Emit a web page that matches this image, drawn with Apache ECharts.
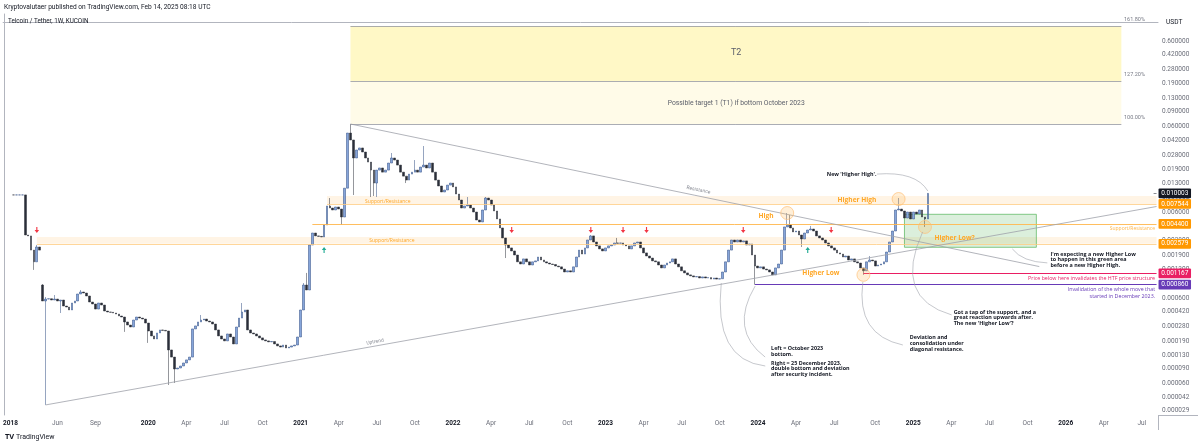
<!DOCTYPE html>
<html><head><meta charset="utf-8">
<script src="https://cdn.jsdelivr.net/npm/echarts/dist/echarts.min.js"></script>
<style>html,body{margin:0;padding:0;background:#fff}#c{width:1200px;height:446px}</style>
</head><body><div id="c"></div>
<script>
// ---------------- DATA ----------------
// weekly bars: a short 2018 block, then a data gap, then continuous weeks from 2019-04-29 (incl. empty future weeks)
const weekSegments = [['2017-12-18', 13], ['2019-04-29', 381]];

// weekly closes (USDT); null = no bar
const closes = [
 null,null,null,0.0096,0.0096,0.0096,0.0096,0.00327,0.00319,0.00218,
 0.00159,0.00237,0.00218,0.000555,0.000585,0.00059,0.00057,0.000585,0.000555,0.00057,
 0.000485,0.000472,0.000436,0.000526,0.000555,0.00067,0.000707,0.000688,0.000635,0.00054,
 0.000512,0.000447,0.000526,0.000498,0.000424,0.000413,0.00041,0.000402,0.000391,0.000371,
 0.000361,0.000316,0.000291,0.000276,0.000333,0.000361,0.000351,0.000342,0.000307,0.000248,
 0.000217,0.0002,0.000235,0.000255,0.000252,0.000248,0.000149,0.000123,0.0000893,0.0000917,
 0.0000968,0.000105,0.000114,0.000123,0.000262,0.000284,0.000316,0.000333,0.000342,0.000324,
 0.000316,0.000299,0.000255,0.000217,0.0002,0.00019,0.000229,0.000211,0.000175,0.000276,
 0.000351,0.000413,0.000436,0.000255,0.000235,0.000229,0.000217,0.000206,0.000195,0.00019,
 0.000185,0.000187,0.000175,0.000166,0.000161,0.00017,0.000157,0.000161,0.000166,0.00017,
 0.000211,0.000436,0.000853,0.000746,0.0025,0.00345,0.00319,0.00315,0.0031,0.00428,
 0.00713,0.00675,0.0064,0.00694,0.00657,0.0053,0.0115,0.0506,0.042,0.0259,
 0.0321,0.0339,0.0304,0.0259,0.0232,0.0187,0.0132,0.0187,0.0198,0.0177,
 0.0187,0.0226,0.0259,0.0245,0.0214,0.0177,0.0159,0.0143,0.0168,0.0177,
 0.0187,0.0177,0.0203,0.0214,0.0198,0.0226,0.0177,0.0143,0.0122,0.01038,
 0.01095,0.0125,0.0132,0.0119,0.00983,0.00837,0.00675,0.00713,0.00732,0.00675,
 0.00606,0.00489,0.00464,0.0064,0.00883,0.00837,0.00732,0.00623,0.00503,0.00395,
 0.00302,0.0025,0.00231,0.00213,0.00191,0.00159,0.0015,0.00172,0.00159,0.00146,
 0.00159,0.00163,0.00181,0.00167,0.00159,0.00154,0.0015,0.00148,0.00142,0.00139,
 0.00131,0.00121,0.00125,0.00121,0.00139,0.00181,0.00218,0.00196,0.00231,0.00286,
 0.00319,0.00271,0.00244,0.00225,0.00213,0.00231,0.00244,0.0025,0.00264,0.00262,
 0.00264,0.0025,0.00244,0.00225,0.00244,0.00264,0.00271,0.00231,0.00202,0.00186,
 0.00176,0.00163,0.00159,0.00146,0.00135,0.00146,0.00154,0.00159,0.00172,0.0015,
 0.00139,0.00125,0.00118,0.00112,0.00109,0.00106,0.00107,0.00103,0.00106,0.00103,
 0.00104,0.001,0.00103,0.001,0.00101,0.00121,0.00159,0.00218,0.00286,0.00271,
 0.00286,0.00271,0.00279,0.0025,0.00257,0.00191,0.00142,0.00135,0.00139,0.00131,
 0.00128,0.00121,0.00112,0.00135,0.0015,0.00218,0.00406,0.00428,0.00395,0.00355,
 0.00364,0.00327,0.00294,0.00345,0.00374,0.00384,0.00364,0.00319,0.00302,0.00286,
 0.00264,0.00244,0.00231,0.00218,0.00202,0.00196,0.00181,0.00186,0.00167,0.00172,
 0.00159,0.00154,0.00135,0.00125,0.00159,0.00167,0.00163,0.00142,0.00146,0.0015,
 0.00159,0.00207,0.00271,0.00364,0.0064,0.00657,0.00623,0.00516,0.00606,0.00503,
 0.00606,0.00575,0.0064,0.0053,0.00503,0.010003
];
// opens that differ from the previous close (start of data / after the gap)
const openAt = {3: 0.0096, 13: 0.000853};
// visible wick extremes
const highAt = {11:0.0025,13:0.000876,14:0.000618,17:0.000652,26:0.000746,67:0.000381,81:0.000526,102:0.0009,103:0.00118,111:0.00883,118:0.0645,132:0.0296,140:0.0245,143:0.0357,158:0.00907,164:0.00907,200:0.00327,209:0.00302,267:0.0059,268:0.0056,275:0.00417,295:0.00186,305:0.00883,315:0.0101};
const lowAt = {10:0.00128,14:0.000034,19:0.000402,41:0.000242,49:0.00018,56:0.0000581,58:0.0000613,115:0.00428,119:0.00957,125:0.00907,126:0.00932,127:0.00907,137:0.0132,171:0.00176,256:0.00086,272:0.00237,293:0.00112,314:0.00406};

// price-scale tick labels
const priceTicks = ['0.600000','0.420000','0.280000','0.190000','0.130000','0.090000','0.060000','0.042000','0.028000','0.019000','0.013000','0.009000','0.006000','0.004200','0.002800','0.001900','0.001300','0.000900','0.000600','0.000420','0.000280','0.000190','0.000130','0.000090','0.000060','0.000042','0.000029'];
// time-scale tick months
const tickMonths = ['2018-01','2019-06','2019-09','2020-01','2020-04','2020-07','2020-10','2021-01','2021-04','2021-07','2021-10','2022-01','2022-04','2022-07','2022-10','2023-01','2023-04','2023-07','2023-10','2024-01','2024-04','2024-07','2024-10','2025-01','2025-04','2025-07','2025-10','2026-01','2026-04','2026-07'];
const monthNames = {'04':'Apr','06':'Jun','07':'Jul','09':'Sep','10':'Oct'};

// drawn levels
const levels = {current:0.010003, hhTop:0.0093, hhBottom:0.007544, sr:0.0044, lowTop:0.0031, lowBottom:0.002579, htf:0.001167, invalid:0.00086, greenTop:0.0057, greenBottom:0.00235};
const fibLevels = [['161.80%',0.8976],['127.20%',0.2049],['100.00%',0.0645]];
const uptrend = [[14,0.000034],[393,0.00703]];
const resistance = [[118,0.0645],[353,0.0014]];
const sellArrows = [[11,0.00374],[173,0.00374],[200,0.00374],[211,0.00374],[219,0.00374],[252,0.00374],[282,0.00374]];
const buyArrows = [[109,0.00218],[274,0.00218]];
const swingCircles = [[267,0.0059],[305,0.0086],[293,0.00112],[314,0.00406]];

// ---------------- BUILD ----------------
const categories = [];
weekSegments.forEach(([s, n]) => {
  const t0 = Date.parse(s + 'T00:00:00Z');
  for (let k = 0; k < n; k++) categories.push(new Date(t0 + k * 604800000).toISOString().slice(0, 10));
});
const N = categories.length;
const candleData = categories.map((c, i) => {
  const cl = closes[i];
  if (cl == null) return '-';
  const o = (i in openAt) ? openAt[i] : closes[i - 1];
  const hi = (i in highAt) ? highAt[i] : Math.max(o, cl);
  const lo = (i in lowAt) ? lowAt[i] : Math.min(o, cl);
  return [o, cl, lo, hi];
});
const tickText = {};
tickMonths.forEach(m => {
  const idx = categories.findIndex(c => c.slice(0, 7) === m);
  if (idx >= 0) { const mm = m.slice(5); tickText[idx] = mm === '01' ? '{yr|' + m.slice(0, 4) + '}' : monthNames[mm]; }
});
const Y_MIN = 2.594e-5, Y_MAX = 1.2397;
const LAST = N - 1;

function hLine(from, price, color, width, box) {
  return [{coord:[from, price], lineStyle:{color:color, width:width, type:'solid'},
           label: box ? {show:true, position:'end', distance:2, formatter: price.toFixed(6), backgroundColor: box, color:'#ffffff', fontSize:6.5, fontFamily:'Roboto', padding:[1.6,2.6,1.2,2.6], borderRadius:1} : {show:false}},
          {coord:[LAST, price]}];
}
const markLines = [
  hLine(LAST - 1, levels.current, '#131722', 0.5, '#131722'),
  hLine(110, levels.hhBottom, '#ffcc80', 0.8, '#ff9800'),
  hLine(105, levels.sr, '#ffb74d', 0.9, '#ff9800'),
  hLine(11, levels.lowBottom, '#ffcc80', 0.8, '#ff9800'),
  hLine(293, levels.htf, '#e91e63', 1, '#e91e63'),
  hLine(256, levels.invalid, '#673ab7', 1.2, '#673ab7'),
  [{coord:uptrend[0], lineStyle:{color:'#9ea1aa', width:0.8, type:'solid'}}, {coord:uptrend[1]}],
  [{coord:resistance[0], lineStyle:{color:'#9ea1aa', width:0.8, type:'solid'}}, {coord:resistance[1]}]
];
fibLevels.forEach(f => markLines.push([{coord:[118, f[1]], lineStyle:{color:'#9598a1', width:0.8, type:'solid'}}, {coord:[381, f[1]]}]));

const markAreas = [
  [{coord:[118, fibLevels[1][1]], itemStyle:{color:'#fff8c6'}}, {coord:[381, fibLevels[0][1]]}],
  [{coord:[118, fibLevels[2][1]], itemStyle:{color:'#fffbe8'}}, {coord:[381, fibLevels[1][1]]}],
  [{coord:[110, levels.hhBottom], itemStyle:{color:'rgba(255,152,0,0.10)'}}, {coord:[LAST, levels.hhTop]}],
  [{coord:[11, levels.lowBottom], itemStyle:{color:'rgba(255,152,0,0.10)'}}, {coord:[LAST, levels.lowTop]}],
  [{coord:[307, levels.greenBottom], itemStyle:{color:'rgba(76,175,80,0.20)', borderColor:'#66bb6a', borderWidth:0.8}}, {coord:[352, levels.greenTop]}]
];
const arrowPath = 'path://M3,0 L5,0 L5,5 L8,5 L4,10 L0,5 L3,5 Z';
const markPoints = [];
sellArrows.forEach(a => markPoints.push({coord:a, symbol:arrowPath, symbolSize:[4.5,6], itemStyle:{color:'#f23645'}}));
buyArrows.forEach(a => markPoints.push({coord:a, symbol:arrowPath, symbolSize:[4.5,6], symbolRotate:180, itemStyle:{color:'#22ab94'}}));
swingCircles.forEach(a => markPoints.push({coord:a, symbol:'circle', symbolSize:13, itemStyle:{color:'rgba(255,183,77,0.22)', borderColor:'#ffc078', borderWidth:0.7}}));

const chart = echarts.init(document.getElementById('c'));
const option = {
  animation:false,
  backgroundColor:'#ffffff',
  textStyle:{fontFamily:'Roboto'},
  grid:{left:0, right:42, top:14, bottom:31, containLabel:false},
  xAxis:[{
    type:'category', data:categories, boundaryGap:true,
    axisLine:{show:true, lineStyle:{color:'#b2b5be', width:1}},
    axisTick:{show:false}, splitLine:{show:false},
    axisLabel:{interval:(idx) => idx in tickText, formatter:(v, idx) => tickText[idx] || '', margin:5, fontSize:6.5, color:'#6a6d78',
      rich:{yr:{fontWeight:'bold', color:'#131722', fontSize:6.5}}}
  },{type:'value', min:-0.5, max:N - 0.5, show:false}],
  yAxis:[{
    type:'log', logBase:10, min:Y_MIN, max:Y_MAX, position:'right',
    axisLine:{show:true, lineStyle:{color:'#b2b5be', width:1}}, axisTick:{show:false}, axisLabel:{show:false}, splitLine:{show:false}
  },{
    type:'value', min:Math.log10(Y_MIN), max:Math.log10(Y_MAX), position:'right',
    axisLine:{show:false}, axisTick:{show:false}, splitLine:{show:false},
    axisLabel:{customValues: priceTicks.map(t => Math.log10(parseFloat(t))), margin:4, fontSize:6.5, color:'#6a6d78',
      formatter:(v) => { const t = priceTicks.find(s => Math.abs(Math.log10(parseFloat(s)) - v) < 1e-6); return t || ''; }}
  }],
  series:[{
    type:'candlestick', xAxisIndex:0, yAxisIndex:0, data:candleData, barWidth:2.3,
    itemStyle:{color:'#86a5da', color0:'#2a2e39', borderColor:'#2c4a80', borderColor0:'#2a2e39', borderWidth:0.5},
    markArea:{silent:true, data:markAreas},
    markLine:{silent:true, symbol:['none','none'], label:{show:false}, lineStyle:{type:'solid'}, emphasis:{disabled:true}, data:markLines},
    markPoint:{silent:true, label:{show:false}, data:markPoints}
  }]
};
chart.setOption(option);

// ---------------- ANNOTATIONS (anchored in data space) ----------------
const P = (v, p) => chart.convertToPixel({xAxisIndex:1, yAxisIndex:0}, [v, p]);
const els = [];
function addText(x, y, text, font, fill, align, valign, extra, lh) {
  els.push(Object.assign({type:'text', x:x, y:y, silent:true, z:100,
    style:{text:text, font:font, fill:fill, align:align || 'left', verticalAlign:valign || 'middle', textAlign:align || 'left', textVerticalAlign:valign || 'middle', lineHeight:lh || 5.6}}, extra || {}));
}
const NOTE = 'bold 5.4px "Open Sans"';
const notes = [
  ["New 'Higher High'.", 280.5, 0.0168],
  ["I'm expecting a new Higher Low\nto happen in this green area\nbefore a new Higher High.", 356.8, 0.00196],
  ["Got a tap of the support, and a\ngreat reaction upwards after.\nThe new 'Higher Low'?", 323.8, 0.000413],
  ["Deviation and\nconsolidation under\ndiagonal resistance.", 308.8, 0.000206],
  ["Left = October 2023\nbottom.", 261.5, 0.000153],
  ["Right = 25 December 2023,\ndouble bottom and deviation\nafter security incident.", 261.5, 0.000104]
];
notes.forEach(n => { const q = P(n[1], n[2]); addText(q[0], q[1] - 2.8, n[0], NOTE, '#131722', 'left', 'top'); });
const swingLabels = [['High', 259.8, 0.00545], ['Higher High', 290.8, 0.00837], ['Higher Low', 278.5, 0.00118], ['Higher Low?', 324.1, 0.00302]];
swingLabels.forEach(s => { const q = P(s[1], s[2]); addText(q[0], q[1], s[0], 'bold 6.6px "Open Sans"', '#ffa726', 'center', 'middle'); });
// zone / level captions
let q;
q = P(123, levels.hhBottom); addText(q[0], q[1] - 2.6, 'Support/Resistance', '5px "Open Sans"', '#ffa726', 'left', 'middle');
q = P(124.4, levels.lowBottom); addText(q[0], q[1] - 2.8, 'Support/Resistance', '5px "Open Sans"', '#ffa726', 'left', 'middle');
q = P(392.5, levels.sr); addText(q[0], q[1] + 5, 'Support/Resistance', '5px "Open Sans"', '#ffb74d', 'right', 'middle');
q = P(392.5, levels.htf); addText(q[0], q[1] + 5, 'Price below here invalidates the HTF price structure', '5.3px "Open Sans"', '#e91e63', 'right', 'middle');
q = P(392.5, levels.invalid); addText(q[0], q[1] + 2, 'Invalidation of the whole move that\nstarted in December 2023.', '5.3px "Open Sans"', '#673ab7', 'right', 'top', null, 6.5);
fibLevels.forEach(f => { const r = P(381.9, f[1]); addText(r[0], r[1] - 6, f[0], '5.5px Roboto', '#787b86', 'left', 'middle'); });
q = P(249.6, 0.4347); addText(q[0], q[1], 'T2', '9px Roboto', '#5d606b', 'center', 'middle');
q = P(249.6, 0.1134); addText(q[0], q[1], 'Possible target 1 (T1) if bottom October 2023', '6.8px Roboto', '#5d606b', 'center', 'middle');
q = P(236.7, 0.01095); addText(q[0], q[1], 'Resistance', '5px Roboto', '#8a8d96', 'center', 'middle', {rotation:-0.2});
q = P(126.4, 0.000185); addText(q[0], q[1], 'Uptrend', '5px Roboto', '#8a8d96', 'center', 'middle', {rotation:0.176});
// callout curves: start anchor (data) + control/end offsets (px)
const callouts = [
  [297.6, 0.0168, 39, -3, 51, 17],
  [343.8, 0.00225, 10, 13, 35, 14],
  [313.2, 0.00355, -30, 66, 29, 83],
  [292.8, 0.000925, -7, 53, 40, 63],
  [244.5, 0.0009, -8, 77, 44, 83],
  [256.05, 0.00083, -26, 44, 10, 71]
];
callouts.forEach(c => { const s = P(c[0], c[1]);
  els.push({type:'bezierCurve', silent:true, z:90, shape:{x1:s[0], y1:s[1], cpx1:s[0] + c[2], cpy1:s[1] + c[3], x2:s[0] + c[4], y2:s[1] + c[5]}, style:{stroke:'#a0a3ab', lineWidth:0.6, fill:null}});
});
// frame texts
addText(4, 7, 'Kryptovalutaer published on TradingView.com, Feb 14, 2025 08:18 UTC', '6.6px Roboto', '#131722', 'left', 'middle');
addText(8, 21.5, 'Telcoin / Tether, 1W, KUCOIN', '6.3px Roboto', '#131722', 'left', 'middle');
addText(1166, 22, 'USDT', '6.6px Roboto', '#131722', 'left', 'middle');
addText(5, 437, 'TV', 'bold 7.5px "Open Sans"', '#131722', 'left', 'middle');
addText(16, 437, 'TradingView', '7px Roboto', '#131722', 'left', 'middle');
els.push({type:'line', silent:true, shape:{x1:1158.5, y1:415, x2:1158.5, y2:430}, style:{stroke:'#b2b5be', lineWidth:1}});
els.push({type:'line', silent:true, shape:{x1:1158, y1:415.5, x2:1198, y2:415.5}, style:{stroke:'#b2b5be', lineWidth:1}});
chart.setOption({graphic:{elements:els}});
</script>
</body></html>
